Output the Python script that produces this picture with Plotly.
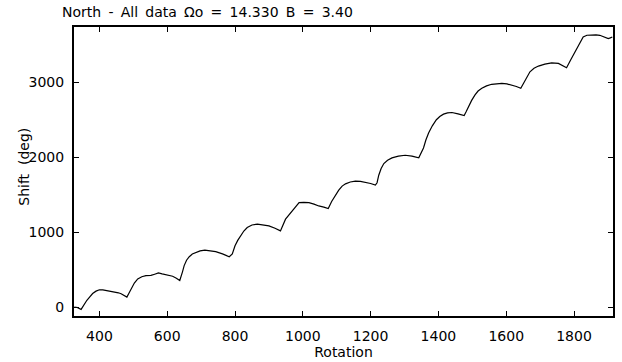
import plotly.graph_objects as go

rotation = [326, 336, 346, 351, 356, 363, 371, 380, 390, 400, 410, 420,
            434, 442, 449, 456, 464, 472, 481,
            487, 493, 503, 513, 525, 537, 552, 563, 574, 585, 596, 606, 616, 627, 637,
            645, 650, 657, 665, 674, 684, 697, 711, 727, 743, 763, 783, 792,
            800, 808, 817, 826, 836, 850, 866, 883, 900, 918, 934,
            949, 959, 969, 979, 989, 1003, 1018, 1033, 1047, 1062, 1075,
            1085, 1092, 1099, 1106, 1116, 1126, 1140, 1155, 1170, 1185, 1200, 1214,
            1219, 1224, 1231, 1239, 1250, 1263, 1282, 1302, 1322, 1342,
            1349, 1356, 1363, 1371, 1382, 1394, 1404, 1415, 1427, 1440, 1458, 1476,
            1482, 1489, 1498, 1508, 1517, 1528, 1542, 1557, 1572, 1587, 1602, 1616, 1630, 1643,
            1656, 1670, 1682, 1695, 1714, 1734, 1754, 1766, 1778,
            1790, 1803, 1815, 1827, 1838, 1852, 1865, 1876, 1890, 1901, 1907, 1913]
shift = [0, -8, -32, 5, 44, 90, 133, 180, 212, 230, 228, 221,
         205, 198, 203, 190, 177, 155, 133,
         185, 243, 320, 376, 405, 420, 422, 438, 455, 442, 433, 422, 411, 385, 354,
         470, 553, 625, 672, 708, 730, 750, 761, 755, 739, 710, 672, 708,
         818, 890, 951, 1015, 1062, 1095, 1106, 1098, 1084, 1052, 1017,
         1173, 1230, 1283, 1345, 1394, 1398, 1394, 1375, 1350, 1335, 1315,
         1410, 1461, 1515, 1560, 1615, 1645, 1670, 1681, 1677, 1668, 1650, 1628,
         1660, 1760, 1850, 1916, 1960, 1992, 2015, 2027, 2015, 1992,
         2050, 2125, 2230, 2324, 2420, 2501, 2545, 2576, 2592, 2598, 2580, 2558,
         2610, 2677, 2760, 2833, 2885, 2921, 2953, 2975, 2985, 2988, 2980, 2965, 2945, 2921,
         3030, 3142, 3190, 3218, 3245, 3262, 3253, 3228, 3195,
         3300, 3408, 3510, 3607, 3630, 3638, 3636, 3629, 3608, 3585, 3595, 3607]

x_ticks = [400, 600, 800, 1000, 1200, 1400, 1600, 1800]
y_ticks = [0, 1000, 2000, 3000]

sp = "\u2009 "
title_text = ("North" + sp + "-" + sp + "All" + sp + "data" + sp + "\u03a9o" + sp + "="
              + sp + "14.330" + sp + "B" + sp + "=" + sp + "3.40")

fig = go.Figure(go.Scatter(x=rotation, y=shift, mode="lines",
                           line=dict(color="black", width=1.2),
                           showlegend=False, hoverinfo="skip"))

font = dict(family="DejaVu Sans", size=14, color="#000000")

fig.update_layout(
    width=622, height=362,
    margin=dict(l=74, r=7, t=27, b=45),
    paper_bgcolor="white", plot_bgcolor="white",
    font=font,
    title=dict(text=title_text, x=62/622, xanchor="left", xref="container",
               y=1 - 12/362, yanchor="middle", yref="container", font=font),
    annotations=[dict(text="Shift\u00a0 (deg)", textangle=-90, showarrow=False,
                      xref="paper", yref="paper",
                      x=(23 - 74) / 541, y=(317.3 - 167) / 290.6,
                      xanchor="center", yanchor="middle", font=font)],
)
fig.update_xaxes(range=[325, 1915], tickvals=x_ticks, ticks="inside",
                 ticklen=5, tickwidth=1, tickcolor="black",
                 showline=True, linewidth=2, linecolor="black",
                 mirror="allticks", showgrid=False, zeroline=False,
                 ticklabelstandoff=6, tickfont=font,
                 title=dict(text="Rotation", standoff=1, font=font))
fig.update_yaxes(range=[-120, 3740], tickvals=y_ticks, ticks="inside",
                 ticklen=5, tickwidth=1, tickcolor="black",
                 showline=True, linewidth=2, linecolor="black",
                 mirror="allticks", showgrid=False, zeroline=False,
                 ticklabelstandoff=5, tickfont=font)

fig.write_html("out.html")
